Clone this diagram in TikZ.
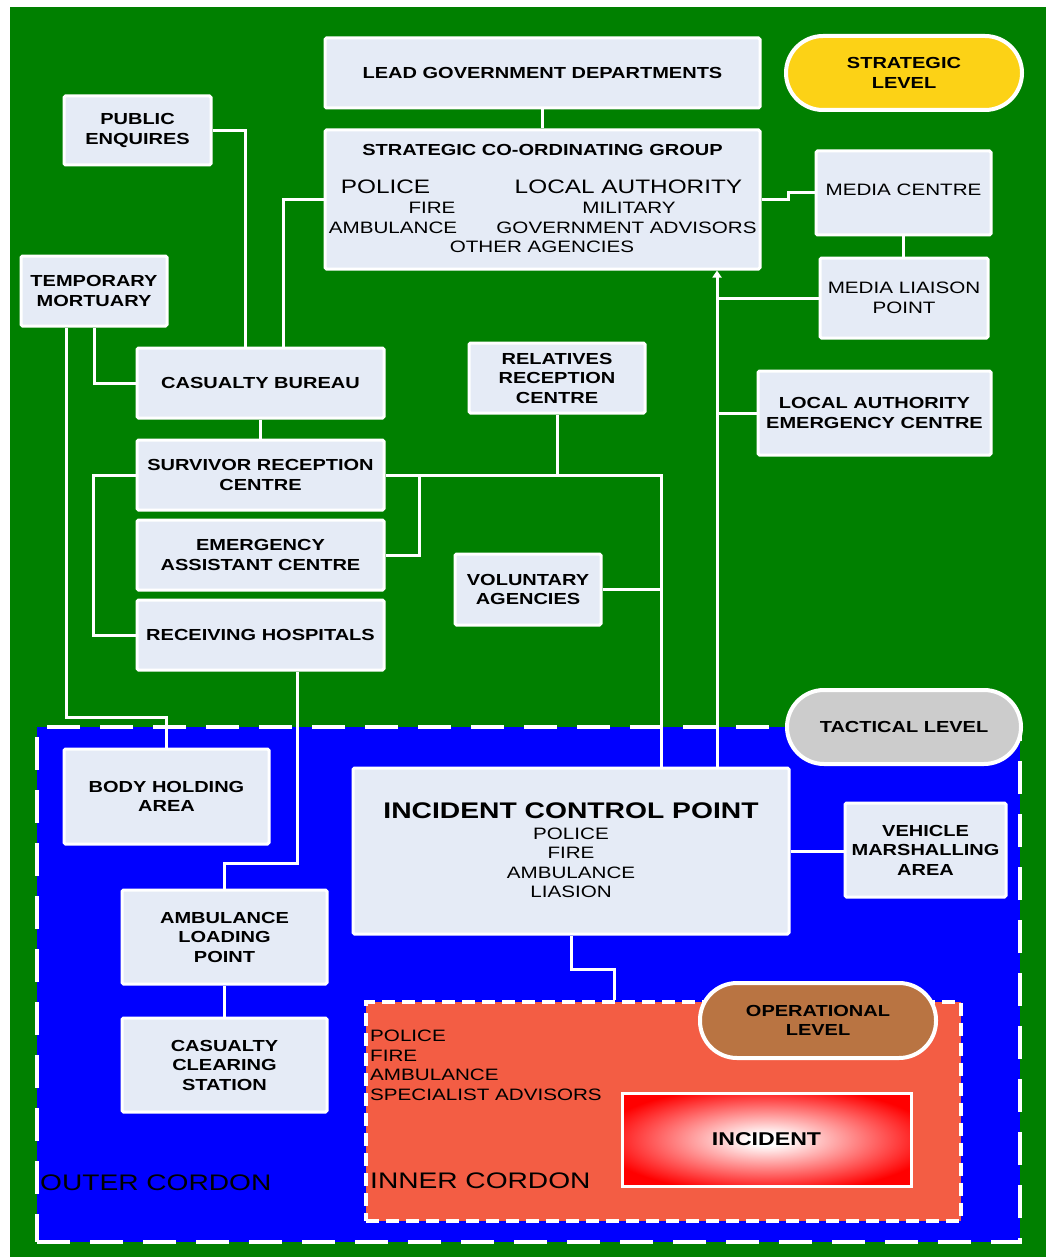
\documentclass[tikz,border=0pt]{standalone}
\usepackage{fontspec}
\setmainfont{Liberation Sans}[FakeStretch=1.25]
\usetikzlibrary{arrows.meta}
\definecolor{bggreen}{RGB}{0,128,0}
\definecolor{boxfill}{RGB}{229,235,246}
\definecolor{outerblue}{RGB}{0,0,255}
\definecolor{innersalmon}{RGB}{243,93,68}
\definecolor{stratyellow}{RGB}{252,210,22}
\definecolor{tactgray}{RGB}{204,204,204}
\definecolor{operbrown}{RGB}{185,116,66}
\pgfdeclarelayer{back}
\pgfdeclarelayer{conns}
\pgfsetlayers{back,conns,main}
\pgfdeclareradialshading{incglow}{\pgfpoint{0bp}{0bp}}{color(0bp)=(white); color(3bp)=(white); color(29bp)=(red); color(50bp)=(red)}
\begin{document}
\begin{tikzpicture}[x=1pt,y=-1pt,
  box/.style={draw=white, line width=3pt, fill=boxfill, rounded corners=1.5pt, inner sep=0pt, align=center, text=black, font=\bfseries\fontsize{16}{19.5}\selectfont},
  regbox/.style={box, font=\fontsize{16.5}{19.5}\selectfont},
  conn/.style={draw=white, line width=3pt},
  lvl/.style={draw=white, line width=4pt, rounded corners=37pt, inner sep=0pt, align=center, text=black, font=\bfseries\fontsize{16}{19.5}\selectfont},
  reg/.style={inner sep=0pt, text=black, font=\fontsize{16.5}{19.5}\selectfont},
  big/.style={inner sep=0pt, text=black, font=\fontsize{19.5}{22}\selectfont},
  cordon/.style={inner sep=0pt, text=black, font=\fontsize{22.5}{26}\selectfont}
]
\useasboundingbox (0,0) rectangle (1048,1257);
\begin{pgfonlayer}{back}
  \fill[white] (0,0) rectangle (1048,1257);
  \fill[bggreen] (10,7) rectangle (1046,1257);
  \node[fill=outerblue, draw=white, line width=4pt, dash pattern=on 33pt off 20pt, minimum width=983pt, minimum height=515pt, inner sep=0pt] (oc) at (528.5,984.5) {};
\end{pgfonlayer}

% boxes
\node[box, minimum width=435pt, minimum height=70pt] (lgd) at (542.5,73) {LEAD GOVERNMENT DEPARTMENTS};
\node[box, minimum width=435pt, minimum height=139pt] (scg) at (542.5,199.5) {};
\node[inner sep=0pt, text=black, font=\bfseries\fontsize{16}{19.5}\selectfont] (scgt) at (542.5,150) {STRATEGIC CO-ORDINATING GROUP};
\node[big] (scgp) at (385.5,187) {POLICE};
\node[big] (scgl) at (628.5,187) {LOCAL AUTHORITY};
\node[reg] (scgf) at (432,208) {FIRE};
\node[reg] (scgm) at (629,208) {MILITARY};
\node[reg] (scga) at (393,228) {AMBULANCE};
\node[reg] (scgg) at (626.5,228) {GOVERNMENT ADVISORS};
\node[reg] (scgo) at (542,247) {OTHER AGENCIES};

\node[box, minimum width=147pt, minimum height=69pt] (pe) at (137.5,130.5) {PUBLIC\\ENQUIRES};
\node[regbox, minimum width=175pt, minimum height=84pt] (mc) at (903.5,193) {};
\node[reg] (mct) at (903.5,190) {MEDIA CENTRE};
\node[regbox, minimum width=168pt, minimum height=80pt] (mlp) at (904,298) {MEDIA LIAISON\\POINT};
\node[box, minimum width=146pt, minimum height=70pt] (tm) at (94,291) {TEMPORARY\\MORTUARY};
\node[box, minimum width=247pt, minimum height=70pt] (cb) at (260.5,383) {CASUALTY BUREAU};
\node[box, minimum width=176pt, minimum height=70pt] (rrc) at (557,378) {RELATIVES\\RECEPTION\\CENTRE};
\node[box, minimum width=233pt, minimum height=84pt] (laec) at (874.5,413) {LOCAL AUTHORITY\\EMERGENCY CENTRE};
\node[box, minimum width=247pt, minimum height=70pt] (src) at (260.5,475) {SURVIVOR RECEPTION\\CENTRE};
\node[box, minimum width=247pt, minimum height=70pt] (eac) at (260.5,555) {EMERGENCY\\ASSISTANT CENTRE};
\node[box, minimum width=146pt, minimum height=71pt] (va) at (528,589.5) {VOLUNTARY\\AGENCIES};
\node[box, minimum width=247pt, minimum height=70pt] (rh) at (260.5,635) {RECEIVING HOSPITALS};
\node[box, minimum width=205pt, minimum height=95pt] (bha) at (166.5,796.5) {BODY HOLDING\\AREA};
\node[box, minimum width=436pt, minimum height=166pt] (icp) at (571,851) {};
\node[inner sep=0pt, text=black, font=\bfseries\fontsize{22.6}{26}\selectfont] (icpt) at (571,811) {INCIDENT CONTROL POINT};
\node[reg] (icp1) at (571,834) {POLICE};
\node[reg] (icp2) at (571,853) {FIRE};
\node[reg] (icp3) at (571,873) {AMBULANCE};
\node[reg] (icp4) at (571,892) {LIASION};
\node[box, minimum width=161pt, minimum height=94pt] (vma) at (925.5,850) {VEHICLE\\MARSHALLING\\AREA};
\node[box, minimum width=205pt, minimum height=94pt] (alp) at (224.5,937) {AMBULANCE\\LOADING\\POINT};
\node[box, minimum width=205pt, minimum height=94pt] (ccs) at (224.5,1065) {CASUALTY\\CLEARING\\STATION};

% inner cordon
\node[fill=innersalmon, draw=white, line width=4pt, dash pattern=on 13pt off 7pt, minimum width=595pt, minimum height=219pt, inner sep=0pt] (ic) at (663.5,1111.5) {};
\node[reg, anchor=north west, align=left] (iclist) at (370,1030) {POLICE\\FIRE\\AMBULANCE\\SPECIALIST ADVISORS};
\node[cordon, anchor=west] (icl) at (370,1181) {INNER CORDON};
\node[cordon, anchor=west] (ocl) at (40,1183) {OUTER CORDON};
\node[draw=white, line width=3pt, shade, shading=incglow, minimum width=289pt, minimum height=93pt, inner sep=0pt, text=black, font=\bfseries\fontsize{18.5}{22}\selectfont] (inc) at (766.5,1139.5) {INCIDENT};

% level badges
\node[lvl, fill=stratyellow, minimum width=236pt, minimum height=74pt] (strat) at (904,73) {STRATEGIC\\LEVEL};
\node[lvl, fill=tactgray, minimum width=234pt, minimum height=74pt] (tact) at (904,727) {TACTICAL LEVEL};
\node[lvl, fill=operbrown, minimum width=236pt, minimum height=75pt] (oper) at (818,1020.5) {OPERATIONAL\\LEVEL};

% connectors
\begin{pgfonlayer}{conns}
  \coordinate (v) at ([xshift=146pt]icp.north);
  \coordinate (w) at ([xshift=90pt]icp.north);
  \draw[conn] (lgd.south) -- (scg.north);
  \draw[conn] (pe.east) -| ([xshift=-15.5pt]cb.north);
  \draw[conn] (scg.west) -| ([xshift=22.5pt]cb.north);
  \draw[conn] (scg.east) -- ++(27,0) |- (mc.west);
  \draw[conn] (mc.south) -- (mc.south |- mlp.north);
  \draw[conn, -{Triangle[width=9pt,length=7pt]}] (v) -- (v |- scg.south);
  \draw[conn] (mlp.west) -- (mlp.west -| v);
  \draw[conn] (laec.west) -- (laec.west -| v);
  \draw[conn] (tm.south) |- (cb.west);
  \draw[conn] ([xshift=-28pt]tm.south) -- ++(0,390) -| (bha.north);
  \draw[conn] (cb.south) -- (src.north);
  \draw[conn] (src.west) -- ++(-42,0) |- (rh.west);
  \draw[conn] (src.east) -| (w);
  \draw[conn] (eac.east) -- ++(34,0) |- (src.east);
  \draw[conn] (rrc.south) -- (rrc.south |- src.east);
  \draw[conn] (va.east) -- (w |- va.east);
  \draw[conn] ([xshift=36.5pt]rh.south) -- ++(0,192) -| (alp.north);
  \draw[conn] (alp.south) -- (ccs.north);
  \draw[conn] (icp.east) -- (icp.east -| vma.west);
  \draw[conn] (icp.south) -- ++(0,34) -| ([xshift=-49.5pt]ic.north);
\end{pgfonlayer}
\end{tikzpicture}
\end{document}
